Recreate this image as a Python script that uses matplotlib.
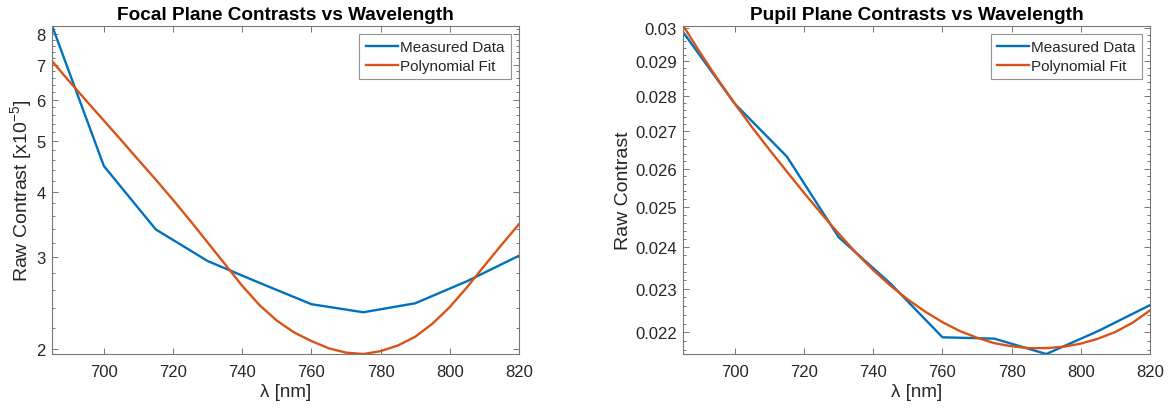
import matplotlib
matplotlib.use("Agg")
import matplotlib.pyplot as plt
from matplotlib.ticker import NullFormatter

plt.rcParams['font.family'] = ['Liberation Sans', 'DejaVu Sans']
plt.rcParams['mathtext.fontset'] = 'custom'
plt.rcParams['mathtext.rm'] = 'Liberation Sans'
plt.rcParams['mathtext.default'] = 'regular'

# measured wavelengths and values
wavelength = [685, 700, 715, 730, 745, 760, 775, 790, 805, 820]
focal_measured = [8.31, 4.48, 3.39, 2.95, 2.68, 2.44, 2.355, 2.45, 2.70, 3.02]
pupil_measured = [0.02988, 0.02777, 0.02632, 0.02424, 0.02312,
                  0.02189, 0.02186, 0.02152, 0.02203, 0.02262]

# fitted curves, read every 5 nm
fit_wavelength = list(range(685, 825, 5))
focal_fit = [7.11, 6.50, 5.96, 5.47, 5.02, 4.60, 4.22, 3.86, 3.52, 3.20,
             2.91, 2.645, 2.43, 2.27, 2.155, 2.075, 2.01, 1.972, 1.96, 1.985,
             2.035, 2.115, 2.24, 2.41, 2.63, 2.89, 3.17, 3.47]
pupil_fit = [0.03008, 0.02925, 0.02848, 0.02777, 0.02711, 0.02650, 0.02592,
             0.02536, 0.02483, 0.02433, 0.02386, 0.02344, 0.02307, 0.02275,
             0.02247, 0.02223, 0.02203, 0.02188, 0.02176, 0.02169, 0.02165,
             0.02165, 0.02168, 0.02175, 0.02186, 0.02201, 0.02222, 0.02250]

x_ticks = [700, 720, 740, 760, 780, 800, 820]
focal_ticks = [2, 3, 4, 5, 6, 7, 8]
pupil_ticks = [0.022, 0.023, 0.024, 0.025, 0.026, 0.027, 0.028, 0.029, 0.03]

BLUE = '#0072BD'
ORANGE = '#D95319'
TEXT = '#262626'
EDGE = '#777777'


def style_axes(ax):
    for sp in ax.spines.values():
        sp.set_color(EDGE)
        sp.set_linewidth(0.8)
    ax.tick_params(which='both', direction='in', top=True, right=True,
                   colors=EDGE, labelcolor=TEXT, labelsize=12, width=0.7)
    ax.tick_params(which='major', length=4.5)
    ax.tick_params(which='minor', length=2.5)
    ax.tick_params(axis='x', pad=7)
    ax.tick_params(axis='y', pad=4.5)
    ax.set_xlim(685, 820)
    ax.set_xticks(x_ticks)
    ax.set_xlabel('λ [nm]', fontsize=13.5, color=TEXT, labelpad=3)


def draw(ax, measured, fit, title, ylabel):
    ax.plot(wavelength, measured, color=BLUE, lw=1.7, label='Measured Data')
    ax.plot(fit_wavelength, fit, color=ORANGE, lw=1.7, label='Polynomial Fit')
    ax.set_yscale('log')
    ax.set_ylim(min(measured + fit), max(measured + fit))
    ax.set_title(title, fontsize=13.7, fontweight='bold', color='black', pad=5)
    ax.set_ylabel(ylabel, fontsize=14, color=TEXT, labelpad=2)
    style_axes(ax)
    leg = ax.legend(loc='upper right', fontsize=11, frameon=True, fancybox=False,
                    borderaxespad=0.55, handlelength=2.1, handletextpad=0.15,
                    borderpad=0.4, labelspacing=0.35)
    leg.get_frame().set_edgecolor(EDGE)
    leg.get_frame().set_linewidth(0.8)
    for t in leg.get_texts():
        t.set_color(TEXT)


fig = plt.figure(figsize=(11.71, 4.10), dpi=100)
ax1 = fig.add_axes([0.0444, 0.1341, 0.3988, 0.8012])
ax2 = fig.add_axes([0.5833, 0.1341, 0.3988, 0.8012])

draw(ax1, focal_measured, focal_fit, 'Focal Plane Contrasts vs Wavelength',
     'Raw Contrast [x10$^{-5}$]')
ax1.set_yticks(focal_ticks)
ax1.set_yticklabels([str(t) for t in focal_ticks])
ax1.set_yticks([round(2 + 0.2 * i, 1) for i in range(32) if (2 + 0.2 * i) % 1 > 0.05
                and (2 + 0.2 * i) % 1 < 0.95], minor=True)
ax1.yaxis.set_minor_formatter(NullFormatter())

draw(ax2, pupil_measured, pupil_fit, 'Pupil Plane Contrasts vs Wavelength',
     'Raw Contrast')
ax2.set_yticks(pupil_ticks)
ax2.set_yticklabels([('%.3f' % t).rstrip('0') for t in pupil_ticks])
ax2.set_yticks([0.0214 + 0.0002 * i for i in range(45)
                if round((0.0214 + 0.0002 * i) * 1000, 4) % 1 > 0.01
                and round((0.0214 + 0.0002 * i) * 1000, 4) % 1 < 0.99], minor=True)
ax2.yaxis.set_minor_formatter(NullFormatter())
ax2.set_ylim(min(pupil_measured + pupil_fit), max(pupil_measured + pupil_fit))

fig.savefig('out.png', dpi=100)
